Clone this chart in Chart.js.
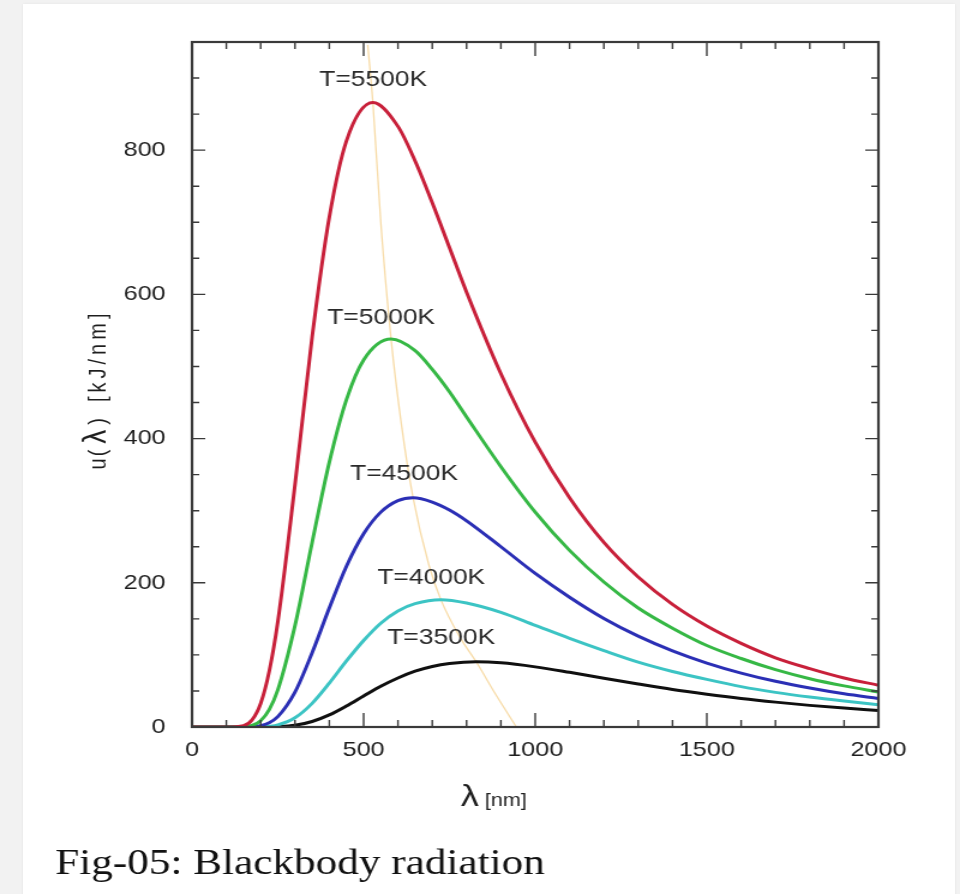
<!DOCTYPE html>
<html>
<head>
<meta charset="utf-8">
<script src="https://cdn.jsdelivr.net/npm/chart.js@4.4.1/dist/chart.umd.min.js"></script>
<style>
  html, body { margin: 0; padding: 0; background: #f2f2f2; }
  body { width: 960px; height: 894px; position: relative; overflow: hidden; }
  #panel { position: absolute; left: 23px; top: 4px; width: 932px; height: 900px; background: #fff; box-shadow: 0 0 2px #e4e4e4; }
  /* the original picture is stretched sideways, so is this one */
  #wrap { position: absolute; left: 0; top: 0; width: 800px; height: 894px; transform: scaleX(1.2); transform-origin: 0 0; }
</style>
</head>
<body>
<div id="panel"></div>
<div id="wrap"><canvas id="planck" width="800" height="894"></canvas></div>
<script>
// wavelength in nm, u(lambda) in kJ/nm
const wavelengths = [0, 100, 150, 175, 200, 225, 250, 300, 350, 400, 450, 500, 550, 600, 650, 700, 750, 800, 900, 1000, 1100, 1200, 1300, 1400, 1500, 1600, 1700, 1800, 1900, 2000];

const u5500 = [0, 0, 1.8, 9.8, 32.6, 77.4, 146, 336, 541, 707, 813, 860, 862, 833, 785, 727, 665, 603, 490, 395, 318, 256, 208, 170, 140, 116, 96, 81, 68, 58];
const u5000 = [0, 0, 0.3, 2.2, 8.8, 24.2, 51.4, 140.6, 256, 367, 454, 509, 534, 536, 522, 496, 465, 430, 361, 298, 245, 201, 165, 137, 113, 95, 79.5, 67, 57, 48.6];
const u4500 = [0, 0, 0, 0.35, 1.8, 5.9, 14.3, 48.4, 103, 165, 223, 268, 298, 314, 317, 312, 301, 286, 250, 213, 180, 150.5, 126, 105.6, 88.7, 74.8, 63.4, 54, 46, 39.6];
const u4000 = [0, 0, 0, 0, 0.24, 1.0, 2.9, 12.8, 32.8, 60.8, 91.6, 120, 144, 161, 171, 175.7, 175.7, 172, 159, 141, 123, 106, 90, 77, 66, 56, 48, 41.5, 36, 31];
const u3500 = [0, 0, 0, 0, 0, 0.1, 0.37, 2.3, 7.6, 16.8, 29.2, 43, 56.5, 68, 77.4, 84, 88, 90.1, 89, 83.4, 75.8, 67.6, 59.6, 52, 45.5, 39.6, 34.5, 30, 26.2, 23];

const curveLabels = ['T=5500K', 'T=5000K', 'T=4500K', 'T=4000K', 'T=3500K'];
const peakWavelength = [527, 580, 644, 725, 828];
const peakValue = [866, 538, 318, 176.6, 90.4];
const labelWavelength = [528, 551, 618, 697, 726];
const labelValue = [897, 568, 351, 207, 123];
const lineColors = ['#c8203a', '#36b845', '#2b2fb5', '#3cc4c4', '#101010'];

// Wien displacement locus (faint orange line through the peaks)
const wienWavelength = [512, 527, 550, 580, 610, 644, 690, 725, 780, 828, 885, 945];
const wienValue = [946, 866, 700, 538, 420, 318, 225, 176.6, 125, 90.4, 45, 0];

const xTickStep = 500, xMinorStep = 100;
const yTickStep = 200, yMinorStep = 50;
const xMax = 2000, yMax = 950;

const allSeries = [u5500, u5000, u4500, u4000, u3500];

// grid readings that sit right next to a peak are dropped so the peak stays smooth
function buildPoints(values, i) {
  const pts = wavelengths
    .map((w, k) => ({ x: w, y: values[k] }))
    .filter(p => Math.abs(p.x - peakWavelength[i]) > 30);
  pts.push({ x: peakWavelength[i], y: peakValue[i] });
  return pts.sort((a, b) => a.x - b.x);
}

const datasets = allSeries.map((vals, i) => ({
  label: curveLabels[i],
  data: buildPoints(vals, i),
  borderColor: lineColors[i],
  borderWidth: 3,
  pointRadius: 0,
  cubicInterpolationMode: 'monotone'
}));

datasets.push({
  label: 'Wien',
  data: wienWavelength.map((w, k) => ({ x: w, y: wienValue[k] })),
  borderColor: 'rgba(243, 200, 120, 0.65)',
  borderWidth: 1.3,
  pointRadius: 0,
  cubicInterpolationMode: 'monotone'
});

const sansFont = '"Liberation Sans", Arial, sans-serif';
const textColor = '#1e1e1e';

const decorations = {
  id: 'decorations',
  afterDatasetsDraw(chart) {
    const { ctx, chartArea: a, scales: { x, y } } = chart;
    ctx.save();

    // inward ticks on all four sides
    ctx.strokeStyle = '#3a3a3a';
    ctx.lineWidth = 1.4;
    ctx.beginPath();
    for (let v = 0; v <= xMax; v += xMinorStep) {
      const px = x.getPixelForValue(v);
      const len = v % xTickStep === 0 ? 14 : 7;
      ctx.moveTo(px, a.bottom); ctx.lineTo(px, a.bottom - len);
      ctx.moveTo(px, a.top); ctx.lineTo(px, a.top + len);
    }
    for (let v = 0; v <= yMax; v += yMinorStep) {
      const py = y.getPixelForValue(v);
      const len = v % yTickStep === 0 ? 11 : 6;
      ctx.moveTo(a.left, py); ctx.lineTo(a.left + len, py);
      ctx.moveTo(a.right, py); ctx.lineTo(a.right - len, py);
    }
    ctx.stroke();
    ctx.lineWidth = 2.2;
    ctx.strokeRect(a.left, a.top, a.right - a.left, a.bottom - a.top);

    // curve labels
    ctx.fillStyle = '#2a2a2a';
    ctx.font = '22px ' + sansFont;
    ctx.textAlign = 'center';
    ctx.textBaseline = 'middle';
    curveLabels.forEach((t, i) => {
      ctx.fillText(t, x.getPixelForValue(labelWavelength[i]), y.getPixelForValue(labelValue[i]));
    });

    // x title
    ctx.fillStyle = textColor;
    ctx.textAlign = 'left';
    ctx.textBaseline = 'alphabetic';
    let tx = (a.left + a.right) / 2 - 62;
    const ty = a.bottom + 79;
    ctx.font = '30px ' + sansFont;
    ctx.fillText('λ', tx, ty);
    tx += ctx.measureText('λ').width + 5;
    ctx.font = '18px ' + sansFont;
    ctx.fillText('[nm]', tx, ty);

    // y title, rotated
    ctx.save();
    ctx.translate(88, (a.top + a.bottom) / 2 + 5);
    ctx.rotate(-Math.PI / 2);
    const parts = [['u(', 20, 2], ['λ', 28, 0], [')', 20, 0], ['[kJ/nm]', 20, 4]];
    const gaps = [4, 5, 16, 0];
    let total = 0;
    parts.forEach(([s, size, sp], k) => {
      ctx.font = size + 'px ' + sansFont;
      ctx.letterSpacing = sp + 'px';
      total += ctx.measureText(s).width + gaps[k];
    });
    let px = -total / 2;
    parts.forEach(([s, size, sp], k) => {
      ctx.font = size + 'px ' + sansFont;
      ctx.letterSpacing = sp + 'px';
      ctx.fillText(s, px, 0);
      px += ctx.measureText(s).width + gaps[k];
    });
    ctx.restore();
    ctx.letterSpacing = '0px';

    // caption
    ctx.fillStyle = '#111';
    ctx.font = '36px "Liberation Serif", "Times New Roman", serif';
    ctx.fillText('Fig-05: Blackbody radiation', 46, 874);

    ctx.restore();
  }
};

new Chart(document.getElementById('planck'), {
  type: 'line',
  data: { datasets },
  options: {
    responsive: false,
    animation: false,
    devicePixelRatio: 1,
    layout: { padding: { left: 0, right: 68, top: 42, bottom: 0 } },
    plugins: { legend: { display: false }, tooltip: { enabled: false } },
    scales: {
      x: {
        type: 'linear',
        min: 0,
        max: xMax,
        grid: { display: false, drawTicks: false },
        border: { display: false },
        ticks: {
          stepSize: xTickStep,
          padding: 11,
          maxRotation: 0,
          color: textColor,
          font: { family: sansFont, size: 21 },
          callback: v => String(v)
        },
        afterFit(scale) { scale.height = 167; }
      },
      y: {
        type: 'linear',
        min: 0,
        max: yMax,
        grid: { display: false, drawTicks: false },
        border: { display: false },
        ticks: {
          stepSize: yTickStep,
          padding: 22,
          color: textColor,
          font: { family: sansFont, size: 21 },
          callback: v => (v % yTickStep === 0 ? String(v) : '')
        },
        afterFit(scale) { scale.width = 160; }
      }
    }
  },
  plugins: [decorations]
});
</script>
</body>
</html>
